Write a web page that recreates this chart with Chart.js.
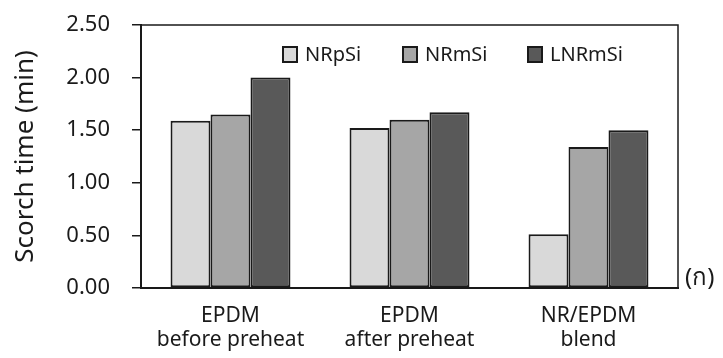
<!DOCTYPE html>
<html>
<head>
<meta charset="utf-8">
<script src="https://cdn.jsdelivr.net/npm/chart.js@4.4.1/dist/chart.umd.min.js"></script>
<style>
  html, body { margin: 0; padding: 0; background: #fff; }
  #wrap { width: 723px; height: 358px; }
</style>
</head>
<body>
<div id="wrap"><canvas id="scorchChart" width="723" height="358"></canvas></div>
<script>
// Scorch time per sample type
const groups = [["EPDM", "before preheat"], ["EPDM", "after preheat"], ["NR/EPDM", "blend"]];
const nrpsi = [1.59, 1.52, 0.51];
const nrmsi = [1.65, 1.60, 1.34];
const lnrmsi = [2.00, 1.67, 1.50];
const yTicks = [0, 0.5, 1.0, 1.5, 2.0, 2.5];

const FONT = "'Noto Sans', 'Open Sans', sans-serif";
const INK = "#1a1a1a";

// legend drawn inside the plot box, plus the outer frame and the (ก) mark
const boxPlugin = {
  id: "boxPlugin",
  afterDraw(chart) {
    const { ctx, chartArea: a } = chart;
    ctx.save();
    ctx.strokeStyle = INK;
    ctx.lineWidth = 1.5;
    ctx.strokeRect(a.left, a.top, a.right - a.left, a.bottom - a.top);

    const legendX = [283, 403, 528];
    const y = 54;
    ctx.font = "20px " + FONT;
    ctx.textBaseline = "middle";
    ctx.textAlign = "left";
    chart.data.datasets.forEach((ds, i) => {
      ctx.fillStyle = ds.backgroundColor;
      ctx.fillRect(legendX[i], y - 7, 14, 15);
      ctx.lineWidth = 2;
      ctx.strokeRect(legendX[i], y - 7, 14, 15);
      ctx.fillStyle = INK;
      ctx.fillText(ds.label, legendX[i] + 22, y + 1);
    });

    ctx.font = "24px " + FONT;
    ctx.textBaseline = "alphabetic";
    ctx.fillText("(ก)", a.right + 7, a.bottom - 3);
    ctx.restore();
  }
};

new Chart("scorchChart", {
  type: "bar",
  data: {
    labels: groups,
    datasets: [
      { label: "NRpSi", data: nrpsi, backgroundColor: "#d9d9d9" },
      { label: "NRmSi", data: nrmsi, backgroundColor: "#a6a6a6" },
      { label: "LNRmSi", data: lnrmsi, backgroundColor: "#595959" }
    ]
  },
  options: {
    responsive: false,
    animation: false,
    layout: { padding: { left: 0, right: 45, top: 25, bottom: 0 } },
    datasets: {
      bar: {
        borderColor: INK,
        borderWidth: 2,
        borderSkipped: false,
        barPercentage: 1.0,
        categoryPercentage: 0.67
      }
    },
    plugins: {
      legend: { display: false },
      tooltip: { enabled: false }
    },
    scales: {
      x: {
        grid: { display: false },
        border: { color: INK, width: 2 },
        ticks: {
          color: INK,
          font: { family: FONT, size: 21, lineHeight: 1.15 },
          padding: 8,
          maxRotation: 0
        },
        afterFit(s) { s.height = 70; s.paddingLeft = 0; s.paddingRight = 0; }
      },
      y: {
        min: 0,
        max: 2.5,
        afterBuildTicks(s) { s.ticks = yTicks.map(v => ({ value: v })); },
        grid: {
          drawOnChartArea: false,
          drawTicks: true,
          tickLength: 9,
          color: INK,
          lineWidth: 1.5
        },
        border: { color: INK, width: 2 },
        ticks: {
          color: INK,
          font: { family: FONT, size: 22 },
          padding: 22,
          callback: v => v.toFixed(2)
        },
        title: {
          display: true,
          text: "Scorch time (min)",
          color: INK,
          font: { family: FONT, size: 26 },
          padding: { top: 10, bottom: 0 }
        },
        afterFit(s) { s.width = 141; s.paddingTop = 0; s.paddingBottom = 0; }
      }
    }
  },
  plugins: [boxPlugin]
});
</script>
</body>
</html>
